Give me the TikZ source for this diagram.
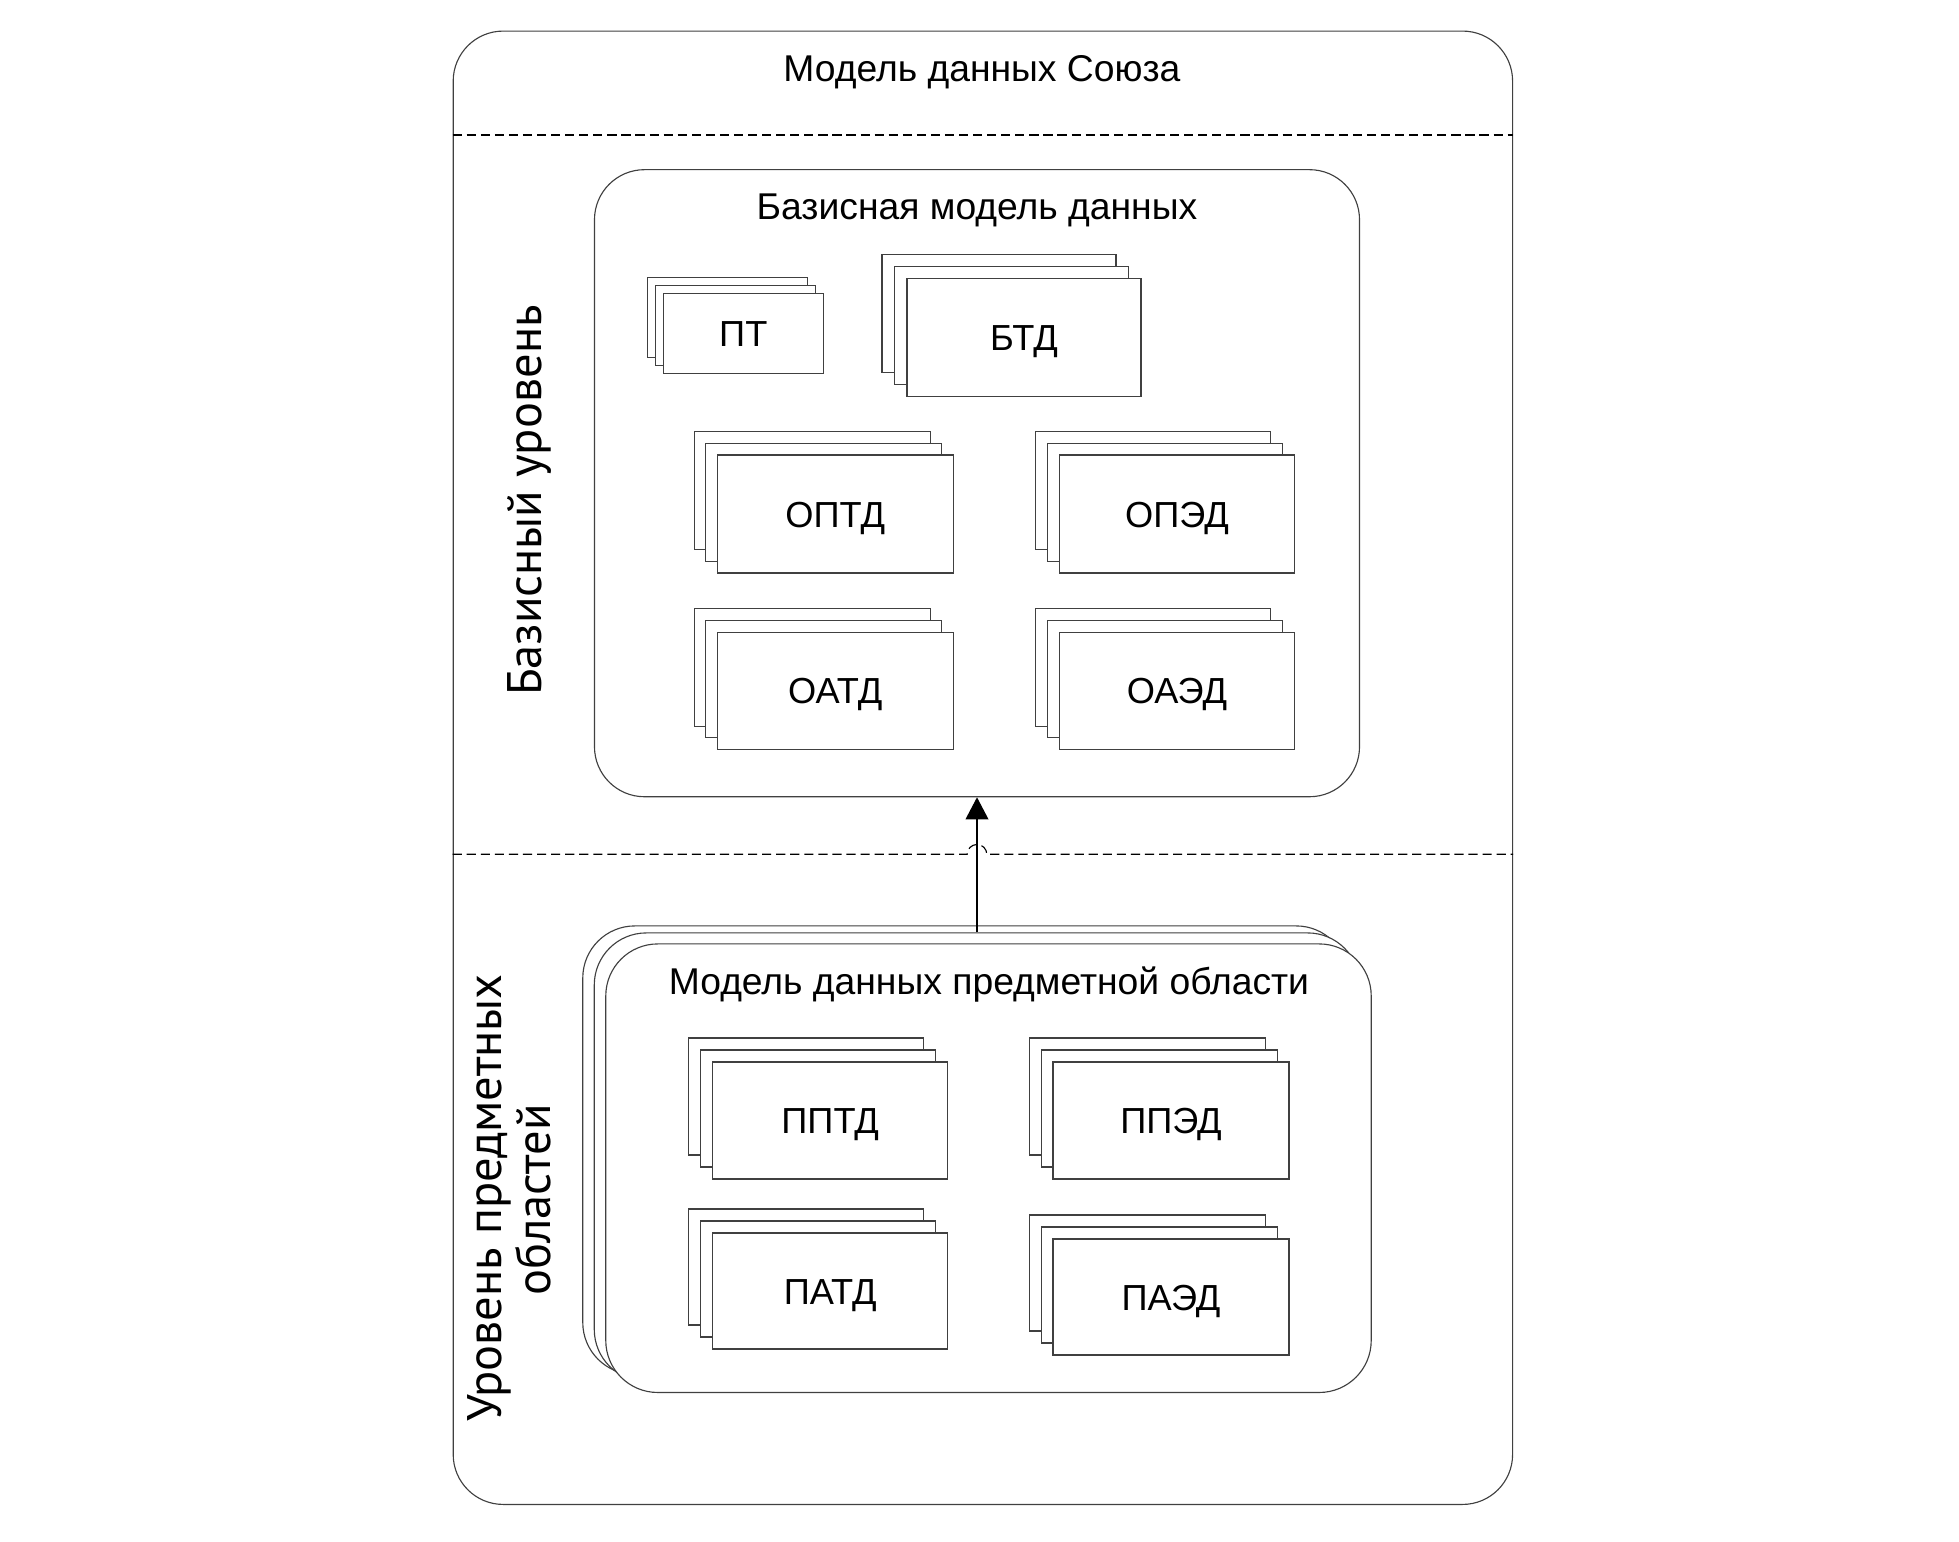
\documentclass[tikz,border=0pt]{standalone}
\usepackage{fontspec}
\setmainfont{Liberation Sans}
\newfontfamily\lvlfont{PT Sans}
\usetikzlibrary{arrows.meta}
\definecolor{lc}{HTML}{404040}
\tikzset{
  stkbox/.style={draw=lc, line width=0.32pt, fill=white, inner sep=0pt},
  lbl/.style={font=\fontsize{10.3}{12}\selectfont, text height=7.4pt, text depth=0pt},
  roundbox/.style={draw=lc, line width=0.32pt, fill=white, rounded corners=0.5cm, inner sep=0pt},
  dashline/.style={draw=black, line width=0.32pt, dash pattern=on 2.6pt off 1.4pt},
  ttl/.style={font=\fontsize{10.6}{12}\selectfont, anchor=base, inner sep=0pt},
  lvl/.style={font=\lvlfont\fontsize{13.8}{15}\selectfont, rotate=90, anchor=base, inner sep=0pt},
  arr/.style={draw=black, line width=0.4pt, -{Triangle[width=6.5pt,length=6.3pt]}},
}
\newcommand{\mystk}[8]{%
  \node[stkbox, minimum width={#4*0.01cm}, minimum height={#5*0.01cm}] (#1c) at ({#2+#4/2-2*#6},{#3+#5/2-2*#7}) {};
  \node[stkbox, minimum width={#4*0.01cm}, minimum height={#5*0.01cm}] (#1b) at ({#2+#4/2-#6},{#3+#5/2-#7}) {};
  \node[stkbox, lbl, minimum width={#4*0.01cm}, minimum height={#5*0.01cm}] (#1) at ({#2+#4/2},{#3+#5/2}) {#8};
}
\begin{document}
\begin{tikzpicture}[x=0.01cm,y=-0.01cm]
\useasboundingbox (0,0) rectangle (1959,1542);
% outer container
\node[roundbox, minimum width=10.588cm, minimum height=14.725cm] (outer) at (982.9,767.75) {};
\node[ttl] (outertitle) at (982,81.7) {Модель данных Союза};
\draw[dashline] (outer.west |- 0,135) -- (outer.east |- 0,135);
% base level
\node[lvl] (lvlbase) at (541.7,500.5) {Базисный уровень};
\node[roundbox, minimum width=7.646cm, minimum height=6.267cm] (base) at (977,483.2) {};
\node[ttl] (basetitle) at (977,219) {Базисная модель данных};
\mystk{pt}{663.3}{293.3}{160}{80}{8}{8}{ПТ}
\mystk{btd}{907}{278.3}{234}{118}{12.5}{12}{БТД}
\mystk{optd}{717.3}{455}{236}{118}{11.5}{11.7}{ОПТД}
\mystk{oped}{1059.5}{455}{235}{118}{11.8}{11.7}{ОПЭД}
\mystk{oatd}{717.3}{632.3}{236}{117.3}{11.5}{11.7}{ОАТД}
\mystk{oaed}{1059.5}{632.3}{235}{117.3}{11.8}{11.7}{ОАЭД}
% separator with line hop
\draw[dashline] (outer.west |- 0,854.3) -- (967.2,854.3) arc[start angle=180,end angle=0,radius=0.098cm] -- (outer.east |- 0,854.3);
% domain level
\node[lvl] (lvldomA) at (501.7,1198) {Уровень предметных};
\node[lvl] (lvldomB) at (550,1200) {областей};
\node[roundbox, rounded corners=0.52cm, minimum width=7.65cm, minimum height=4.483cm] (domc) at (965.5,1150.2) {};
\node[roundbox, rounded corners=0.52cm, minimum width=7.65cm, minimum height=4.483cm] (domb) at (977,1157.2) {};
\node[roundbox, rounded corners=0.52cm, minimum width=7.65cm, minimum height=4.483cm] (dom) at (988.5,1168.2) {};
\node[ttl] (domtitle) at (989,994.3) {Модель данных предметной области};
\mystk{pptd}{712.7}{1062}{235}{117}{12.3}{12}{ППТД}
\mystk{pped}{1053}{1062}{236}{117}{11.8}{12}{ППЭД}
\mystk{patd}{712.7}{1233}{235}{116}{12.3}{12}{ПАТД}
\mystk{paed}{1053}{1239}{236}{116}{11.8}{12}{ПАЭД}
% arrow
\draw[arr] (domb.north) -- (base.south);
\end{tikzpicture}
\end{document}
